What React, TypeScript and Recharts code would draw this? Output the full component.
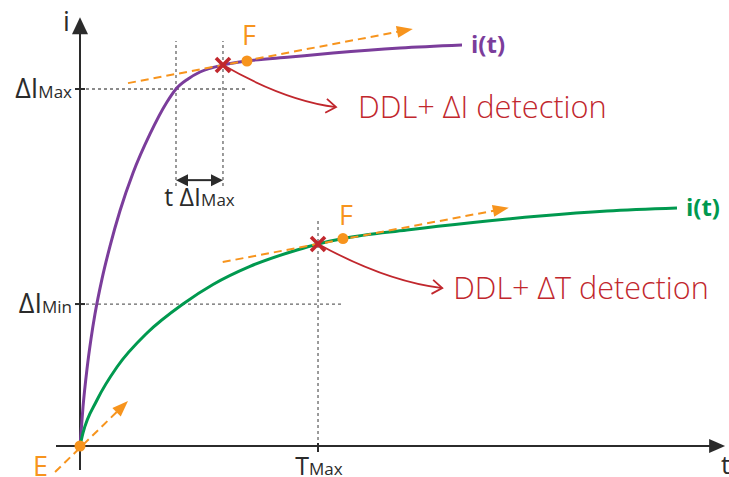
import {
  ComposedChart,
  Line,
  XAxis,
  YAxis,
  ReferenceLine,
  ReferenceDot,
} from "recharts";

// t in arbitrary units (0..100), i in arbitrary units (0..100)
const purpleCurve = [
  { t: 0, i: 0 },
  { t: 0.47, i: 9.3 },
  { t: 1.09, i: 18.3 },
  { t: 1.72, i: 25.5 },
  { t: 2.34, i: 31.4 },
  { t: 3.44, i: 39.8 },
  { t: 4.69, i: 47.6 },
  { t: 6.25, i: 56 },
  { t: 8.28, i: 65 },
  { t: 10.94, i: 74.3 },
  { t: 13.59, i: 81.9 },
  { t: 15, i: 85 },
  { t: 16.88, i: 87.4 },
  { t: 18.75, i: 89.05 },
  { t: 22.34, i: 90.7 },
  { t: 26.09, i: 91.67 },
  { t: 32.81, i: 92.62 },
  { t: 39.53, i: 93.57 },
  { t: 50, i: 94.76 },
  { t: 59.69, i: 95.48 },
];

const greenCurve = [
  { t: 0, i: 0 },
  { t: 0.47, i: 3.1 },
  { t: 2.66, i: 10.95 },
  { t: 5.78, i: 18.81 },
  { t: 10.47, i: 26.9 },
  { t: 16.09, i: 33.81 },
  { t: 20.78, i: 38.45 },
  { t: 26.56, i: 42.76 },
  { t: 33.91, i: 46.67 },
  { t: 37.19, i: 48.1 },
  { t: 41.09, i: 49.4 },
  { t: 51.09, i: 51.43 },
  { t: 61.41, i: 53.21 },
  { t: 71.88, i: 54.76 },
  { t: 82.34, i: 55.95 },
  { t: 93.28, i: 56.67 },
];

const I_MAX = 85;
const I_MIN = 33.8;
const T_MAX = 37.19;
const T_DI_MAX = 15;
const T_DETECT_I = 22.34;

const detectI = { t: 22.34, i: 90.7 };
const detectT = { t: 37.19, i: 48.1 };
const pointE = { t: 0, i: 0 };
const pointF1 = { t: 26.09, i: 91.67 };
const pointF2 = { t: 41.09, i: 49.4 };

// tangent arrows [start, tip]
const tangents = [
  [{ t: 7.5, i: 86.4 }, { t: 52, i: 99.3 }],
  [{ t: 22.3, i: 43.8 }, { t: 67, i: 56.7 }],
  [{ t: -3.9, i: -6.2 }, { t: 7.5, i: 10.7 }],
];

// red connectors [from marker, to text]
const connectors = [
  [detectI, { t: 40, i: 80.7 }],
  [detectT, { t: 56.6, i: 37.6 }],
];

const FONT = "'Open Sans', 'Noto Sans', sans-serif";
const PURPLE = "#7b3d9b";
const GREEN = "#00994f";
const ORANGE = "#f7941d";
const RED = "#c1272d";
const INK = "#2b2b2b";
const GRID = "#666";

function arrowShape(color: string, width: number, len: number, half: number, dash?: string) {
  return (p: any) => {
    const { x1, y1, x2, y2 } = p;
    const dx = x2 - x1;
    const dy = y2 - y1;
    const l = Math.hypot(dx, dy) || 1;
    const ux = dx / l;
    const uy = dy / l;
    const bx = x2 - ux * len;
    const by = y2 - uy * len;
    return (
      <g>
        <line x1={x1} y1={y1} x2={bx + ux} y2={by + uy} stroke={color} strokeWidth={width} strokeDasharray={dash} />
        <polygon
          points={`${x2},${y2} ${bx - uy * half},${by + ux * half} ${bx + uy * half},${by - ux * half}`}
          fill={color}
        />
      </g>
    );
  };
}

function doubleArrow(p: any) {
  const { x1, y1, x2, y2 } = p;
  const len = 12;
  const half = 6;
  return (
    <g>
      <line x1={x1 + len} y1={y1} x2={x2 - len} y2={y2} stroke={INK} strokeWidth={2} />
      <polygon points={`${x1},${y1} ${x1 + len},${y1 - half} ${x1 + len},${y1 + half}`} fill={INK} />
      <polygon points={`${x2},${y2} ${x2 - len},${y2 - half} ${x2 - len},${y2 + half}`} fill={INK} />
    </g>
  );
}

function connectorShape(p: any) {
  const { x1, y1, x2, y2 } = p;
  const cx = x1 + (x2 - x1) * 0.55;
  const cy = y1 + (y2 - y1) * 0.85;
  const dx = x2 - cx;
  const dy = y2 - cy;
  const l = Math.hypot(dx, dy) || 1;
  const ux = dx / l;
  const uy = dy / l;
  const len = 10;
  const half = 7;
  const bx = x2 - ux * len;
  const by = y2 - uy * len;
  return (
    <g fill="none" stroke={RED} strokeWidth={1.8}>
      <path d={`M${x1},${y1} Q${cx},${cy} ${x2},${y2}`} />
      <path d={`M${bx - uy * half},${by + ux * half} L${x2},${y2} L${bx + uy * half},${by - ux * half}`} />
    </g>
  );
}

function crossShape(p: any) {
  const { cx, cy } = p;
  const s = 7;
  return (
    <g stroke={RED} strokeWidth={3.6}>
      <line x1={cx - s} y1={cy - s} x2={cx + s} y2={cy + s} />
      <line x1={cx - s} y1={cy + s} x2={cx + s} y2={cy - s} />
    </g>
  );
}

function textShape(
  parts: { text: string; size: number }[],
  color: string,
  dx: number,
  dy: number,
  anchor: "start" | "middle" | "end" = "start",
  weight: number = 400
) {
  return (p: any) => (
    <text x={p.cx + dx} y={p.cy + dy} fill={color} textAnchor={anchor} fontFamily={FONT} fontWeight={weight}>
      {parts.map((s, k) => (
        <tspan key={k} fontSize={s.size}>
          {s.text}
        </tspan>
      ))}
    </text>
  );
}

function YTick(props: any) {
  const { x, y, payload } = props;
  const label = payload.value === I_MAX ? "Max" : "Min";
  return (
    <g>
      <line x1={x + 3} x2={x + 13} y1={y} y2={y} stroke={INK} strokeWidth={2} />
      <text x={x} y={y + 9} textAnchor="end" fill={INK} fontFamily={FONT}>
        <tspan fontSize={27}>ΔI</tspan>
        <tspan fontSize={17}>{label}</tspan>
      </text>
    </g>
  );
}

function XTick(props: any) {
  const { x, y } = props;
  return (
    <g>
      <line x1={x} x2={x} y1={y - 3} y2={y + 6} stroke={INK} strokeWidth={2} />
      <text x={x + 1} y={y + 29} textAnchor="middle" fill={INK} fontFamily={FONT}>
        <tspan fontSize={25}>T</tspan>
        <tspan fontSize={17}>Max</tspan>
      </text>
    </g>
  );
}

const dashed = { stroke: GRID, strokeWidth: 1.3, strokeDasharray: "3 3", ifOverflow: "visible" as const };

export default function App() {
  return (
    <div style={{ position: "absolute", left: 0, top: 0, background: "#fff" }}>
      <ComposedChart width={729} height={477} margin={{ top: 26, right: 9, bottom: 0, left: 0 }}>
        <XAxis
          dataKey="t"
          type="number"
          domain={[0, 100]}
          ticks={[T_MAX]}
          interval={0}
          height={31}
          axisLine={false}
          tickLine={false}
          tickSize={0}
          tickMargin={0}
          tick={<XTick />}
        />
        <YAxis
          type="number"
          domain={[0, 100]}
          ticks={[I_MIN, I_MAX]}
          interval={0}
          width={80}
          axisLine={false}
          tickLine={false}
          tickSize={0}
          tickMargin={8}
          tick={<YTick />}
        />

        {/* guide lines */}
        <ReferenceLine segment={[{ x: 0, y: I_MAX }, { x: 26.1, y: I_MAX }]} {...dashed} />
        <ReferenceLine segment={[{ x: 0, y: I_MIN }, { x: 41.1, y: I_MIN }]} {...dashed} />
        <ReferenceLine segment={[{ x: T_MAX, y: 0 }, { x: T_MAX, y: 53.8 }]} {...dashed} />
        <ReferenceLine segment={[{ x: T_DI_MAX, y: 61.9 }, { x: T_DI_MAX, y: 96.4 }]} {...dashed} />
        <ReferenceLine segment={[{ x: T_DETECT_I, y: 61.9 }, { x: T_DETECT_I, y: 96.4 }]} {...dashed} />
        <ReferenceLine
          segment={[{ x: T_DI_MAX, y: 63.3 }, { x: T_DETECT_I, y: 63.3 }]}
          ifOverflow="visible"
          shape={doubleArrow}
        />
        <ReferenceDot
          x={(T_DI_MAX + T_DETECT_I) / 2}
          y={63.3}
          ifOverflow="visible"
          shape={textShape(
            [
              { text: "t ΔI", size: 25 },
              { text: "Max", size: 17 },
            ],
            INK,
            0,
            26,
            "middle"
          )}
        />

        {/* axes */}
        <ReferenceLine
          segment={[{ x: 0, y: -5.7 }, { x: 0, y: 102.1 }]}
          ifOverflow="visible"
          shape={arrowShape(INK, 2, 17, 8)}
        />
        <ReferenceLine
          segment={[{ x: -3.75, y: 0 }, { x: 100.8, y: 0 }]}
          ifOverflow="visible"
          shape={arrowShape(INK, 2, 16, 7)}
        />
        <ReferenceDot x={0} y={102.1} ifOverflow="visible" shape={textShape([{ text: "i", size: 27 }], INK, -17, 14)} />
        <ReferenceDot x={100.8} y={0} ifOverflow="visible" shape={textShape([{ text: "t", size: 26 }], INK, -4, 28)} />

        {/* curves */}
        <Line data={purpleCurve} dataKey="i" type="monotone" stroke={PURPLE} strokeWidth={3} dot={false} activeDot={false} isAnimationActive={false} />
        <Line data={greenCurve} dataKey="i" type="monotone" stroke={GREEN} strokeWidth={3} dot={false} activeDot={false} isAnimationActive={false} />

        {/* tangents */}
        {tangents.map(([a, b], k) => (
          <ReferenceLine
            key={k}
            segment={[{ x: a.t, y: a.i }, { x: b.t, y: b.i }]}
            ifOverflow="visible"
            shape={arrowShape(ORANGE, 2, 16, 6, "8 5")}
          />
        ))}

        {/* connectors */}
        {connectors.map(([a, b], k) => (
          <ReferenceLine
            key={k}
            segment={[{ x: a.t, y: a.i }, { x: b.t, y: b.i }]}
            ifOverflow="visible"
            shape={connectorShape}
          />
        ))}

        {/* markers */}
        {[pointE, pointF1, pointF2].map((p, k) => (
          <ReferenceDot key={k} x={p.t} y={p.i} r={5.5} fill={ORANGE} stroke="none" ifOverflow="visible" />
        ))}
        {[detectI, detectT].map((p, k) => (
          <ReferenceDot key={k} x={p.t} y={p.i} ifOverflow="visible" shape={crossShape} />
        ))}

        {/* labels */}
        <ReferenceDot x={pointE.t} y={pointE.i} ifOverflow="visible" shape={textShape([{ text: "E", size: 27 }], ORANGE, -47, 30)} />
        <ReferenceDot x={pointF1.t} y={pointF1.i} ifOverflow="visible" shape={textShape([{ text: "F", size: 27 }], ORANGE, -5, -16)} />
        <ReferenceDot x={pointF2.t} y={pointF2.i} ifOverflow="visible" shape={textShape([{ text: "F", size: 27 }], ORANGE, -4, -14)} />
        <ReferenceDot
          x={purpleCurve[purpleCurve.length - 1].t}
          y={purpleCurve[purpleCurve.length - 1].i}
          ifOverflow="visible"
          shape={textShape([{ text: "i(t)", size: 24 }], PURPLE, 9, 8, "start", 700)}
        />
        <ReferenceDot
          x={greenCurve[greenCurve.length - 1].t}
          y={greenCurve[greenCurve.length - 1].i}
          ifOverflow="visible"
          shape={textShape([{ text: "i(t)", size: 24 }], GREEN, 9, 8, "start", 700)}
        />
        <ReferenceDot
          x={connectors[0][1].t}
          y={connectors[0][1].i}
          ifOverflow="visible"
          shape={textShape([{ text: "DDL+ ΔI detection", size: 30.8 }], RED, 22, 11, "start", 300)}
        />
        <ReferenceDot
          x={connectors[1][1].t}
          y={connectors[1][1].i}
          ifOverflow="visible"
          shape={textShape([{ text: "DDL+ ΔT detection", size: 30.6 }], RED, 11, 11, "start", 300)}
        />
      </ComposedChart>
    </div>
  );
}
